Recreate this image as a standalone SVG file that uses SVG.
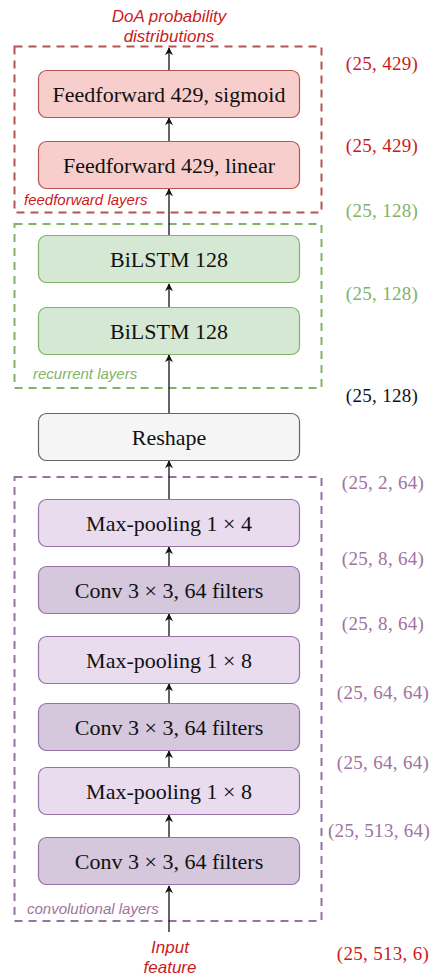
<svg xmlns="http://www.w3.org/2000/svg" width="430" height="976" viewBox="0 0 430 976">
<style>
.grp{fill:none;stroke-width:2;stroke-dasharray:8 6}
.node{stroke-width:1.2}
.nt{font-family:"Liberation Serif","DejaVu Serif",serif;font-size:22px;fill:#111;text-anchor:middle;dominant-baseline:central}
.dim{font-family:"Liberation Serif","DejaVu Serif",serif;font-size:19px;text-anchor:middle;dominant-baseline:central;letter-spacing:0.3px}
.lab{font-family:"Liberation Sans",Arial,sans-serif;font-style:italic;font-size:15px}
.big{font-size:17px}
.red{fill:#cc1b1b}
.grn{fill:#82b366}
.pur{fill:#a0739e}
.conn line{stroke:#111;stroke-width:1.3;marker-end:url(#ah)}
</style>
<defs>
<marker id="ah" viewBox="0 0 10 10" refX="9" refY="5" markerWidth="8" markerHeight="8" markerUnits="userSpaceOnUse" orient="auto">
<path d="M0,0 L10,5 L0,10 L3,5 Z" fill="#111"/>
</marker>
</defs>
<rect width="430" height="976" fill="#fff"/>

<g id="group-feedforward">
<rect class="grp" x="14.5" y="46.5" width="307" height="166" stroke="#b85450"/>
<text class="lab red" x="24" y="205">feedforward layers</text>
</g>
<g id="group-recurrent">
<rect class="grp" x="14.5" y="224" width="307" height="164" stroke="#82b366"/>
<text class="lab grn" x="33" y="379">recurrent layers</text>
</g>
<g id="group-conv">
<rect class="grp" x="14.5" y="477" width="307" height="444" stroke="#9673a6"/>
<text class="lab pur" x="27" y="914">convolutional layers</text>
</g>

<g id="conn" class="conn">
<line x1="169" y1="70" x2="169" y2="48"/>
<line x1="169" y1="141" x2="169" y2="118"/>
<line x1="169" y1="235" x2="169" y2="189"/>
<line x1="169" y1="307" x2="169" y2="284"/>
<line x1="169" y1="413" x2="169" y2="355"/>
<line x1="169" y1="499" x2="169" y2="461"/>
<line x1="169" y1="566" x2="169" y2="547"/>
<line x1="169" y1="636" x2="169" y2="614"/>
<line x1="169" y1="703" x2="169" y2="684"/>
<line x1="169" y1="767" x2="169" y2="751"/>
<line x1="169" y1="837" x2="169" y2="815"/>
<line x1="169" y1="932" x2="169" y2="886"/>
</g>

<g id="n-ff-sigmoid">
<rect class="node" x="38.5" y="70.5" width="261" height="47" rx="8" fill="#f8cecc" stroke="#b85450"/>
<text class="nt" x="169" y="94">Feedforward 429, sigmoid</text>
</g>
<g id="n-ff-linear">
<rect class="node" x="38.5" y="141.5" width="261" height="47" rx="8" fill="#f8cecc" stroke="#b85450"/>
<text class="nt" x="169" y="165">Feedforward 429, linear</text>
</g>
<g id="n-bilstm-2">
<rect class="node" x="38.5" y="235.5" width="261" height="47" rx="8" fill="#d5e8d4" stroke="#82b366"/>
<text class="nt" x="169" y="259">BiLSTM 128</text>
</g>
<g id="n-bilstm-1">
<rect class="node" x="38.5" y="307.5" width="261" height="47" rx="8" fill="#d5e8d4" stroke="#82b366"/>
<text class="nt" x="169" y="331">BiLSTM 128</text>
</g>
<g id="n-reshape">
<rect class="node" x="38.5" y="413.5" width="261" height="47" rx="8" fill="#f5f5f5" stroke="#666666"/>
<text class="nt" x="169" y="437" fill="#333">Reshape</text>
</g>
<g id="n-pool-3">
<rect class="node" x="38.5" y="499.5" width="261" height="47" rx="8" fill="#e9dcef" stroke="#9673a6"/>
<text class="nt" x="169" y="523">Max-pooling 1 × 4</text>
</g>
<g id="n-conv-3">
<rect class="node" x="38.5" y="566.5" width="261" height="47" rx="8" fill="#d5c7dc" stroke="#9673a6"/>
<text class="nt" x="169" y="590">Conv 3 × 3, 64 filters</text>
</g>
<g id="n-pool-2">
<rect class="node" x="38.5" y="636.5" width="261" height="47" rx="8" fill="#e9dcef" stroke="#9673a6"/>
<text class="nt" x="169" y="660">Max-pooling 1 × 8</text>
</g>
<g id="n-conv-2">
<rect class="node" x="38.5" y="703.5" width="261" height="47" rx="8" fill="#d5c7dc" stroke="#9673a6"/>
<text class="nt" x="169" y="727">Conv 3 × 3, 64 filters</text>
</g>
<g id="n-pool-1">
<rect class="node" x="38.5" y="767.5" width="261" height="47" rx="8" fill="#e9dcef" stroke="#9673a6"/>
<text class="nt" x="169" y="791">Max-pooling 1 × 8</text>
</g>
<g id="n-conv-1">
<rect class="node" x="38.5" y="837.5" width="261" height="47" rx="8" fill="#d5c7dc" stroke="#9673a6"/>
<text class="nt" x="169" y="861">Conv 3 × 3, 64 filters</text>
</g>

<g id="t-output">
<text class="lab big red" x="169" y="22" text-anchor="middle">DoA probability</text>
<text class="lab big red" x="169" y="42" text-anchor="middle">distributions</text>
</g>
<g id="t-input">
<text class="lab big red" x="170" y="953" text-anchor="middle">Input</text>
<text class="lab big red" x="170" y="973" text-anchor="middle">feature</text>
</g>

<g id="dims">
<text class="dim red" x="382" y="63">(25, 429)</text>
<text class="dim red" x="382" y="145">(25, 429)</text>
<text class="dim grn" x="382" y="210">(25, 128)</text>
<text class="dim grn" x="382" y="293">(25, 128)</text>
<text class="dim" x="382" y="395" fill="#111">(25, 128)</text>
<text class="dim pur" x="383" y="482">(25, 2, 64)</text>
<text class="dim pur" x="383" y="558">(25, 8, 64)</text>
<text class="dim pur" x="383" y="623">(25, 8, 64)</text>
<text class="dim pur" x="383" y="692">(25, 64, 64)</text>
<text class="dim pur" x="383" y="762">(25, 64, 64)</text>
<text class="dim pur" x="379" y="830">(25, 513, 64)</text>
<text class="dim red" x="383" y="953">(25, 513, 6)</text>
</g>
</svg>
